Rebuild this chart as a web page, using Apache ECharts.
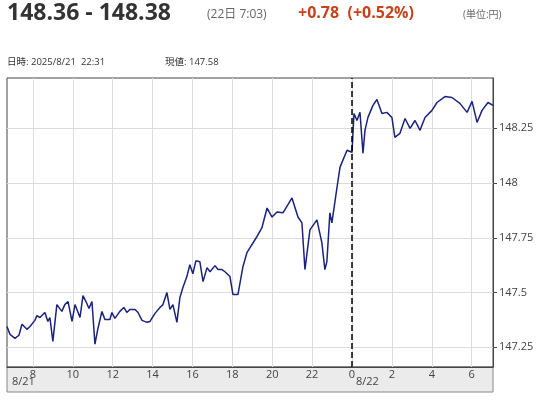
<!DOCTYPE html>
<html><head><meta charset="utf-8">
<script src="https://cdn.jsdelivr.net/npm/echarts@6/dist/echarts.min.js"></script>
<style>html,body{margin:0;padding:0;background:#fff}#c{width:548px;height:400px}</style>
</head><body><div id="c"></div>
<script>
const hours = [6.70,6.85,7.10,7.30,7.45,7.70,7.85,8.10,8.20,8.35,8.60,8.75,8.85,9.00,9.20,9.45,9.60,9.76,9.96,10.11,10.36,10.51,10.66,10.81,10.96,11.11,11.26,11.46,11.61,11.86,11.96,12.11,12.36,12.56,12.71,12.86,13.12,13.27,13.47,13.72,13.87,14.12,14.37,14.52,14.72,14.87,15.02,15.22,15.37,15.52,15.72,15.87,16.02,16.17,16.37,16.53,16.73,16.88,17.13,17.28,17.48,17.63,17.88,18.03,18.28,18.53,18.73,19.23,19.48,19.74,19.99,20.24,20.54,20.99,21.29,21.49,21.64,21.89,22.24,22.49,22.64,22.74,22.89,22.99,23.25,23.40,23.75,24.00,24.10,24.25,24.40,24.55,24.65,24.80,25.05,25.25,25.50,25.75,26.00,26.15,26.40,26.66,26.91,27.16,27.41,27.66,28.01,28.26,28.66,29.01,29.41,29.77,30.02,30.27,30.52,30.82,31.07];
const prices = [147.345,147.309,147.291,147.305,147.355,147.332,147.345,147.373,147.395,147.386,147.409,147.368,147.386,147.277,147.445,147.414,147.445,147.459,147.368,147.445,147.386,147.486,147.459,147.427,147.459,147.264,147.336,147.414,147.377,147.377,147.409,147.382,147.414,147.432,147.409,147.423,147.423,147.409,147.373,147.364,147.368,147.405,147.432,147.445,147.500,147.423,147.445,147.364,147.477,147.523,147.573,147.627,147.586,147.645,147.641,147.550,147.614,147.595,147.623,147.605,147.605,147.595,147.573,147.491,147.491,147.618,147.682,147.755,147.795,147.886,147.845,147.868,147.864,147.932,147.845,147.818,147.605,147.786,147.832,147.727,147.605,147.641,147.864,147.818,147.982,148.073,148.150,148.141,148.318,148.286,148.323,148.136,148.241,148.300,148.355,148.382,148.318,148.323,148.300,148.209,148.227,148.295,148.250,148.286,148.241,148.300,148.332,148.368,148.395,148.391,148.364,148.323,148.373,148.277,148.332,148.368,148.355];
const xTicks = [8,10,12,14,16,18,20,22,24,26,28,30];
const yTicks = [147.25,147.5,147.75,148,148.25];
const dateLabels = ['8/21','8/22'];

const chart = echarts.init(document.getElementById('c'));
const F = '"Open Sans","Noto Sans CJK JP",sans-serif';
chart.setOption({
  animation:false,
  grid:{left:7,right:55,top:78,bottom:33,show:true,borderColor:'#444',borderWidth:1},
  graphic:[
    {type:'rect',shape:{x:7,y:367,width:486,height:25},style:{fill:'#ebebeb',stroke:'#888',lineWidth:1},z:-1},
    {type:'text',left:7,top:2,style:{text:'148.36 - 148.38',font:'bold 23px '+F,fill:'#333'}},
    {type:'text',left:207,top:9,style:{text:'(22日 7:03)',font:'12px '+F,fill:'#666'}},
    {type:'text',left:298,top:5,style:{text:'+0.78  (+0.52%)',font:'bold 16px '+F,fill:'#c8421a'}},
    {type:'text',left:463,top:10,style:{text:'(単位:円)',font:'10px '+F,fill:'#666'}},
    {type:'text',left:7,top:58,style:{text:'日時: 2025/8/21  22:31',font:'9.5px '+F,fill:'#333'}},
    {type:'text',left:165,top:58,style:{text:'現値: 147.58',font:'9.5px '+F,fill:'#333'}},
    {type:'text',left:12,top:376,style:{text:dateLabels[0],font:'11px '+F,fill:'#444'}},
    {type:'text',left:356,top:376,style:{text:dateLabels[1],font:'11px '+F,fill:'#444'}}
  ],
  xAxis:{type:'value',min:6.7,max:31.07,
    axisLine:{show:true,lineStyle:{color:'#444'}},
    axisTick:{show:false,customValues:xTicks},
    axisLabel:{customValues:xTicks,formatter:v=>String(Math.round(v)%24),color:'#444',fontSize:11,margin:2,fontFamily:F},
    splitLine:{show:true,lineStyle:{color:'#dcdcdc'}}},
  yAxis:{type:'value',position:'right',min:147.16,max:148.48,
    axisLine:{show:true,lineStyle:{color:'#444'}},
    axisTick:{show:true,customValues:yTicks,length:4,lineStyle:{color:'#444'}},
    axisLabel:{customValues:yTicks,color:'#444',fontSize:11,margin:6,fontFamily:F},
    splitLine:{show:true,lineStyle:{color:'#dcdcdc'}}},
  series:[{type:'line',data:hours.map((h,i)=>[h,prices[i]]),showSymbol:false,
    lineStyle:{color:'#1a237e',width:1.5},
    markLine:{symbol:'none',silent:true,label:{show:false},
      lineStyle:{color:'#000',type:'dashed',width:1.5},data:[{xAxis:24}]}}]
});
</script></body></html>
